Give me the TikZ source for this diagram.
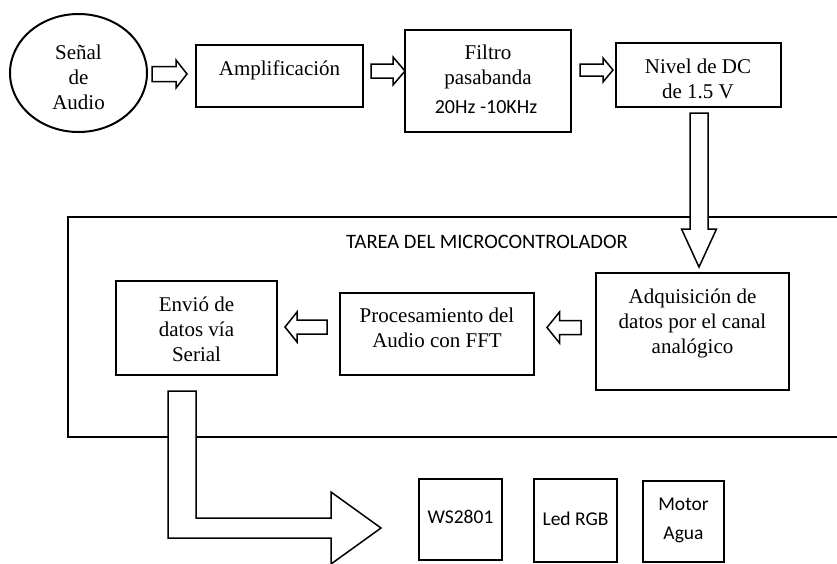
\documentclass[tikz,border=0pt]{standalone}
\usepackage{fontspec}
\setmainfont{Liberation Serif}
\setsansfont{Carlito}
\usetikzlibrary{calc,shapes.geometric}
\newcommand\blockarrow[5]{%
  \coordinate (ba-h) at ($(#2)!#5!(#1)$);
  \draw[hollow] ($(#1)!#3!90:(#2)$) -- ($(ba-h)!#3!90:(#2)$) -- ($(ba-h)!#4!90:(#2)$) -- (#2)
    -- ($(ba-h)!#4!-90:(#2)$) -- ($(ba-h)!#3!-90:(#2)$) -- ($(#1)!#3!-90:(#2)$) -- cycle;}
\begin{document}
\begin{tikzpicture}[x=1pt,y=-1pt,
  box/.style={draw, line width=2.4pt, inner sep=0},
  smallbox/.style={draw, line width=1.1pt, inner sep=0},
  hollow/.style={draw, fill=white, line width=1.5pt, line join=miter},
  serif/.style={font=\fontsize{21}{25}\selectfont, align=center, inner sep=0},
  sans/.style={font=\sffamily\fontsize{19.5}{29}\selectfont, align=center, inner sep=0}]
\useasboundingbox (0,0) rectangle (837,563);
% microcontroller frame (open on the right)
\draw[line width=2pt] (840,217) -- (68,217) -- (68,437) -- (840,437);
\node[sans, font=\sffamily\fontsize{20.5}{25}\selectfont, anchor=base] (tarea) at (487,248) {TAREA DEL MICROCONTROLADOR};
% top row
\node[ellipse, draw, line width=2pt, minimum width=137, minimum height=118, inner sep=0] (sig) at (78.5,73) {};
\node[serif, anchor=north] (sigt) at (78.5,41.5) {Señal\strut\\de\strut\\Audio\strut};
\node[box, minimum width=167, minimum height=62] (amp) at (279.5,76) {};
\node[serif, anchor=base] (ampt) at (279.5,75) {Amplificación};
\node[box, minimum width=166, minimum height=102] (filt) at (488,81) {};
\node[serif, anchor=north] (filtt) at (488,41.5) {Filtro\strut\\pasabanda\strut};
\node[sans, font=\sffamily\fontsize{20}{25}\selectfont, anchor=base] (filtf) at (486,113) {20Hz -10KHz};
\node[box, minimum width=165, minimum height=64] (niv) at (698.5,75) {};
\node[serif, anchor=north] (nivt) at (698,55.5) {Nivel de DC\strut\\de 1.5 V\strut};
% middle row
\node[box, minimum width=193, minimum height=117] (adq) at (692.5,331.5) {};
\node[serif, anchor=north] (adqt) at (692.5,285.5) {Adquisición de\strut\\datos por el canal\strut\\analógico\strut};
\node[box, minimum width=194, minimum height=82] (proc) at (437,334) {};
\node[serif, anchor=north] (proct) at (437,305) {Procesamiento del\strut\\Audio con FFT\strut};
\node[box, minimum width=161, minimum height=94] (env) at (196.5,328) {};
\node[serif, anchor=north] (envt) at (196.5,294) {Envió de\strut\\datos vía\strut\\Serial\strut};
% bottom row
\node[smallbox, minimum width=83, minimum height=81] (ws) at (460.5,519.5) {};
\node[sans, anchor=base] (wst) at (460.5,523) {WS2801};
\node[smallbox, minimum width=83, minimum height=83] (led) at (575.5,520.5) {};
\node[sans, anchor=base] (ledt) at (575.5,525.5) {Led RGB};
\node[smallbox, minimum width=81, minimum height=81] (mot) at (683.5,521.5) {};
\node[sans, anchor=north] (mott) at (683.5,489.7) {Motor\strut\\Agua\strut};
% block arrows
\coordinate (a1s) at (152,74);   \coordinate (a1t) at (187,74);
\coordinate (a2s) at (371,71);   \coordinate (a2t) at (405,71);
\coordinate (a3s) at (580,70);   \coordinate (a3t) at (613,70);
\coordinate (dns) at (699,113);  \coordinate (dnt) at (699,267);
\coordinate (l1s) at (327,327);  \coordinate (l1t) at (285,327);
\coordinate (l2s) at (581,327.5);\coordinate (l2t) at (547,327.5);
\blockarrow{a1s}{a1t}{7.5pt}{14pt}{11pt}
\blockarrow{a2s}{a2t}{7pt}{14pt}{12pt}
\blockarrow{a3s}{a3t}{6pt}{12pt}{10pt}
\blockarrow{dns}{dnt}{9pt}{17.5pt}{38pt}
\blockarrow{l1s}{l1t}{7pt}{15pt}{12pt}
\blockarrow{l2s}{l2t}{7pt}{15.5pt}{12.5pt}
% bent output arrow from the serial block
\coordinate (bs) at (182,391);
\coordinate (bt) at (381,528);
\draw[hollow] ($(bs)+(-14,0)$) -- ($(bs)+(14,0)$) -- (196,518) -- (331,518) -- (331,492)
  -- (bt) -- (331,564) -- (331,538) -- (168,538) -- cycle;
\end{tikzpicture}
\end{document}
